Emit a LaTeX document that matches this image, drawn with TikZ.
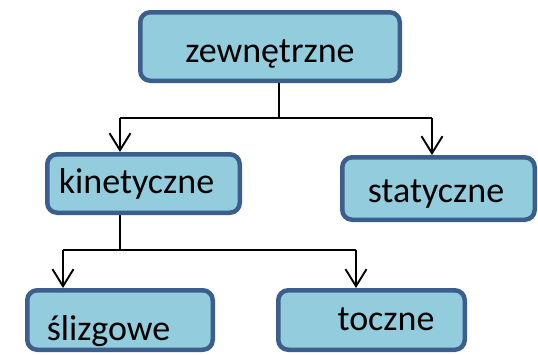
\documentclass[tikz,border=0pt]{standalone}
\usepackage{fontspec}
\setmainfont{Carlito}
\usetikzlibrary{arrows.meta}
\definecolor{boxfill}{HTML}{93CDDD}
\definecolor{boxline}{HTML}{3B5E8C}
\tikzset{
  box/.style={draw=boxline, fill=boxfill, line width=4.5pt, rounded corners=10pt, inner sep=0pt},
  lbl/.style={anchor=base, inner sep=0pt, font=\fontsize{36}{40}\selectfont},
  conn/.style={line width=1.9pt, draw=black},
  arr/.style={conn, -{Straight Barb[length=17pt,width=21pt,line width=1.9pt]}}
}
\begin{document}
\begin{tikzpicture}[x=1pt,y=-1pt]
\useasboundingbox (0,0) rectangle (538,354);
\node[box, minimum width=259.5pt, minimum height=68.5pt] (top) at (270,46.5) {};
\node[box, minimum width=192.5pt, minimum height=58.5pt] (kin) at (143.5,183.5) {};
\node[box, minimum width=192.5pt, minimum height=62.5pt] (stat) at (438.5,188.5) {};
\node[box, minimum width=185.5pt, minimum height=59.5pt] (sliz) at (120,320) {};
\node[box, minimum width=186.5pt, minimum height=59.5pt] (tocz) at (371.5,320) {};
\node[lbl] (ttop) at (270,62) {zewnętrzne};
\node[lbl] (tkin) at (136.5,193) {kinetyczne};
\node[lbl] (tstat) at (436,202) {statyczne};
\node[lbl] (tsliz) at (108.5,340) {ślizgowe};
\node[lbl] (ttocz) at (386,330) {toczne};
\coordinate (j1) at (279,118);
\coordinate (a1) at (120,118);
\coordinate (a2) at (432,118);
\coordinate (j2) at (120,250);
\coordinate (b1) at (63,250);
\coordinate (b2) at (356,250);
\draw[conn] (top.south -| j1) -- (j1);
\draw[conn] (a1) -- (a2);
\draw[arr] (a1) -- (kin.north -| a1);
\draw[arr] (a2) -- (stat.north -| a2);
\draw[conn] (kin.south -| j2) -- (j2);
\draw[conn] (b1) -- (b2);
\draw[arr] (b1) -- (sliz.north -| b1);
\draw[arr] (b2) -- (tocz.north -| b2);
\end{tikzpicture}
\end{document}
